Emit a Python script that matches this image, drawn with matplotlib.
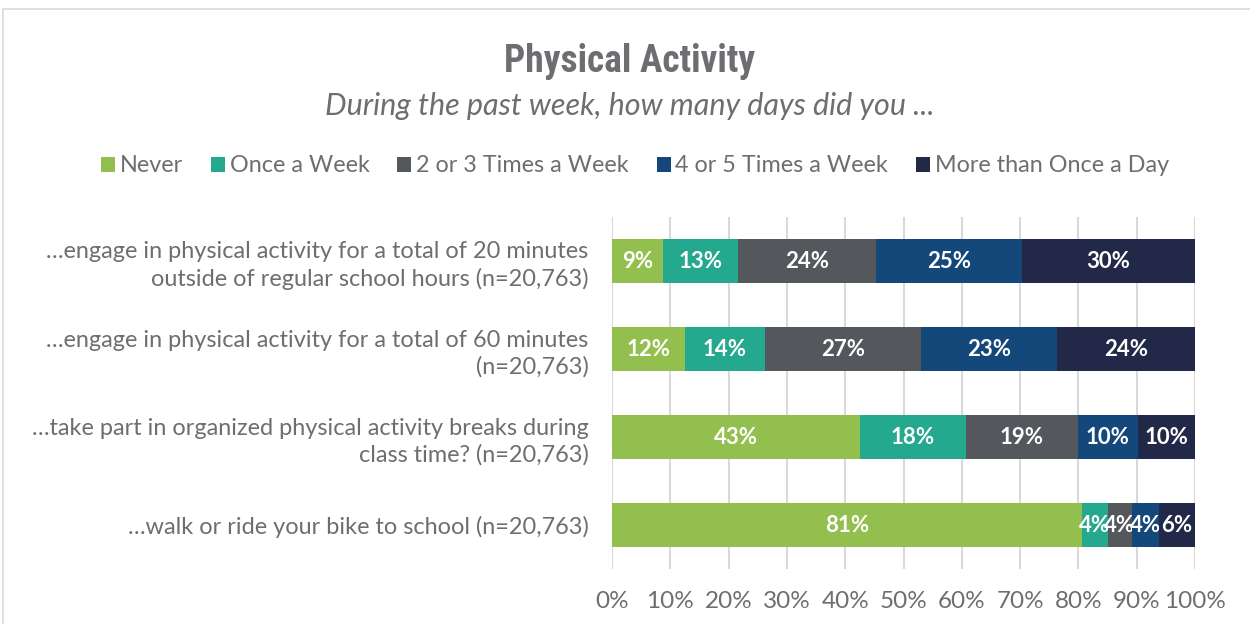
import matplotlib.pyplot as plt
import matplotlib.patches as patches
from matplotlib import font_manager
import numpy as np

plt.rcParams['font.family'] = ['Lato', 'DejaVu Sans']

questions = [
    "…engage in physical activity for a total of 20 minutes\noutside of regular school hours (n=20,763)",
    "…engage in physical activity for a total of 60 minutes\n(n=20,763)",
    "…take part in organized physical activity breaks during\nclass time? (n=20,763)",
    "…walk or ride your bike to school (n=20,763)",
]
answers = ["Never", "Once a Week", "2 or 3 Times a Week", "4 or 5 Times a Week", "More than Once a Day"]
never = [8.7, 12.5, 42.5, 80.6]
once_week = [12.9, 13.7, 18.2, 4.4]
two_three = [23.7, 26.8, 19.2, 4.2]
four_five = [25.0, 23.3, 10.3, 4.6]
more_day = [29.7, 23.7, 9.8, 6.2]
labels = [
    ["9%", "12%", "43%", "81%"],
    ["13%", "14%", "18%", "4%"],
    ["24%", "27%", "19%", "4%"],
    ["25%", "23%", "10%", "4%"],
    ["30%", "24%", "10%", "6%"],
]
colors = ["#92BF4E", "#24A98F", "#54575C", "#14477A", "#222847"]
grey = "#6D6E71"

series = [never, once_week, two_three, four_five, more_day]


def bold700(f):
    w = f.weight
    if isinstance(w, str):
        return w == 'bold'
    return w == 700


# a narrow bold face for the title, if one is installed
preferred = ['Oswald', 'Roboto Condensed', 'Liberation Sans Narrow',
             'DejaVu Sans Condensed', 'Open Sans Condensed', 'Noto Sans Condensed']
cands = [f for f in font_manager.fontManager.ttflist
         if ('Condensed' in f.name or 'Narrow' in f.name or f.name == 'Oswald')
         and bold700(f) and f.style == 'normal']
cands.sort(key=lambda f: preferred.index(f.name) if f.name in preferred else 99)
if cands:
    tprop = font_manager.FontProperties(fname=cands[0].fname, size=27)
else:
    tprop = font_manager.FontProperties(family='Roboto', weight='bold', size=24)

fig = plt.figure(figsize=(12.5, 6.24), dpi=100)
ax = fig.add_axes([612/1250, 1-569/624, 583/1250, 352/624])

y = np.arange(len(questions))
left = np.zeros(len(questions))
for vals, lab, col, name in zip(series, labels, colors, answers):
    vals = np.array(vals)
    bars = ax.barh(y, vals, left=left, height=0.5, color=col, label=name, zorder=3)
    ax.bar_label(bars, labels=lab, label_type='center', color='white',
                 fontsize=16, fontweight='bold')
    left += vals

ax.set_xlim(0, 100)
ax.set_ylim(3.5, -0.5)
ax.set_xticks(np.arange(0, 101, 10))
ax.set_xticklabels([f"{v}%" for v in range(0, 101, 10)])
ax.set_yticks(y)
ax.set_yticklabels(questions, fontsize=16.9, color=grey, linespacing=1.3)
ax.tick_params(axis='x', colors=grey, labelsize=17.5, length=0, pad=16)
ax.tick_params(axis='y', length=0, pad=17)
for lbl in ax.get_yticklabels():
    lbl.set_horizontalalignment('right')
ax.grid(axis='x', color='#D9D9D9', linewidth=1.5, zorder=0)
for s in ax.spines.values():
    s.set_visible(False)

fig.text(630/1250, 1-61/624, "Physical Activity", ha='center', va='center',
         color=grey, fontproperties=tprop)
fig.text(630/1250, 1-106/624, "During the past week, how many days did you ...",
         ha='center', va='center', fontsize=22, style='italic', color=grey)

leg = fig.legend(loc='center', bbox_to_anchor=(635/1250, 1-166/624), ncol=5,
                 frameon=False, fontsize=16.8, handlelength=0.6, handleheight=0.6,
                 handletextpad=0.2, columnspacing=1.2)
for t in leg.get_texts():
    t.set_color(grey)

fig.patches.append(patches.Rectangle((3/1250, -0.1), 1.2, 1-9/624+0.1,
                   transform=fig.transFigure, fill=False,
                   edgecolor='#D9D9D9', linewidth=1.2))

fig.savefig("out.png", dpi=100)
